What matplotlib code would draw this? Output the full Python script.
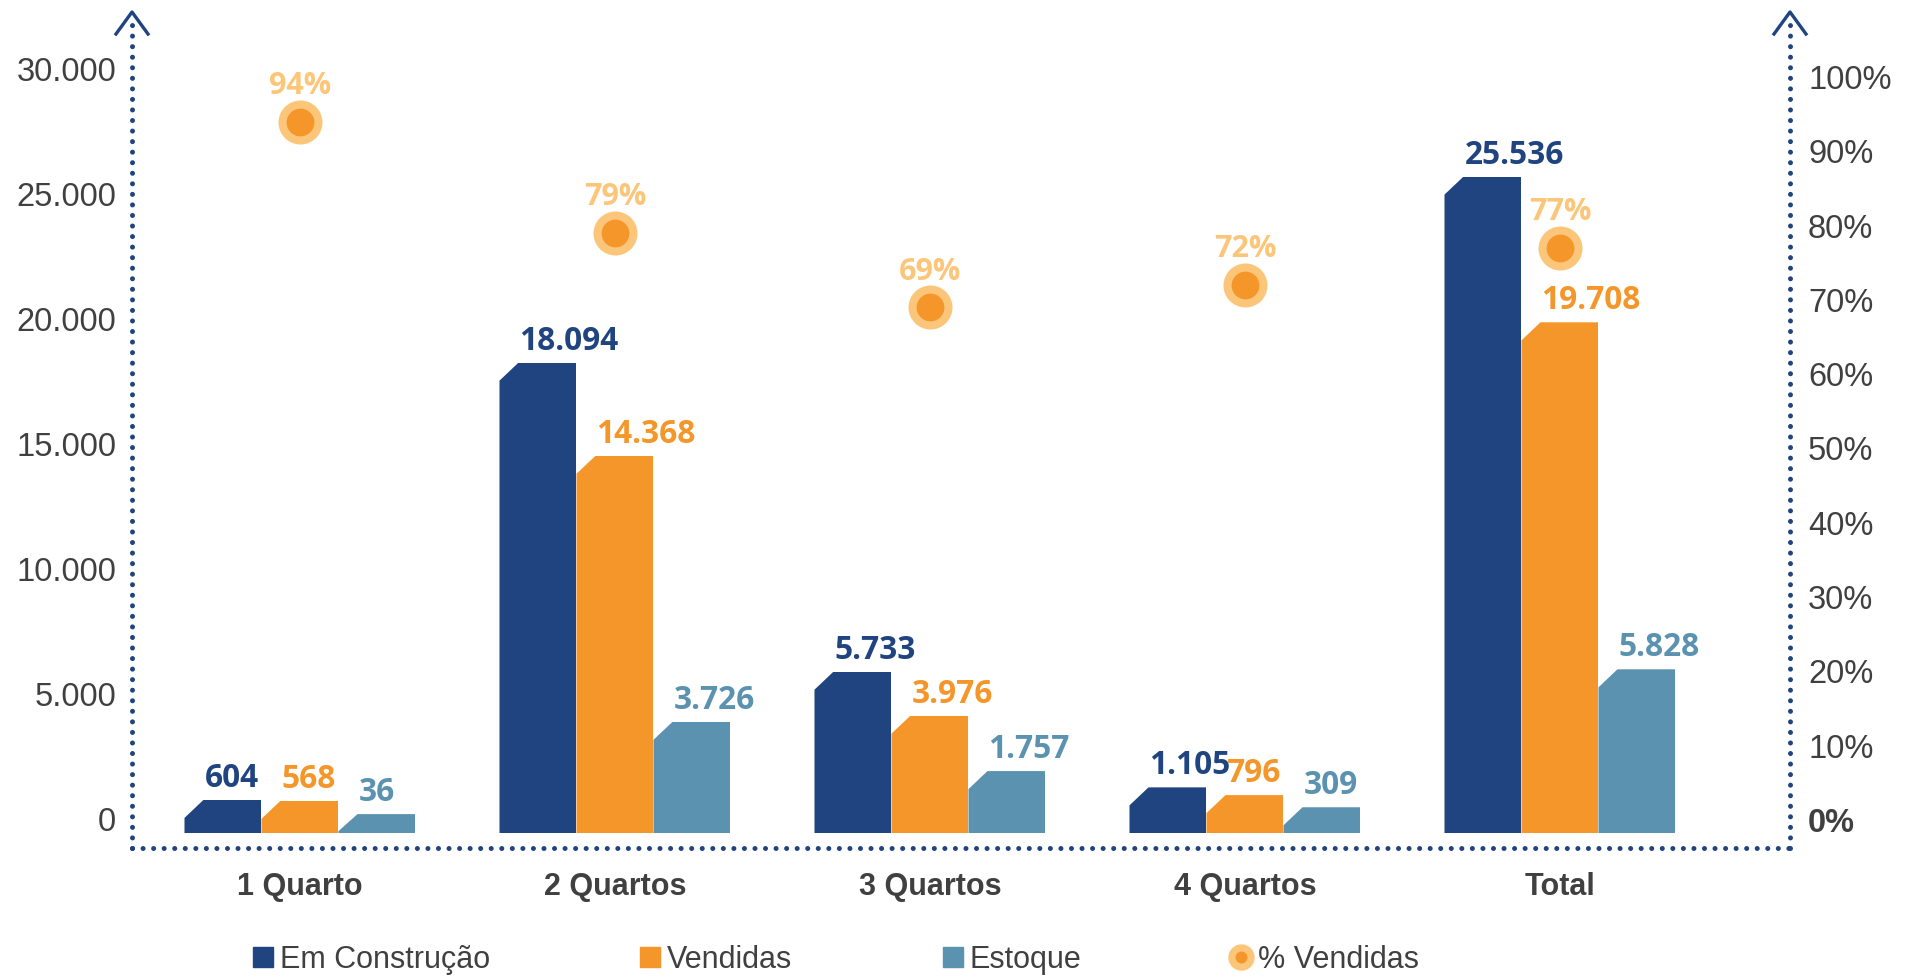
import numpy as np
import matplotlib
matplotlib.use("Agg")
import matplotlib.pyplot as plt
import matplotlib.transforms as mtransforms
from matplotlib.patches import Polygon
from matplotlib.lines import Line2D

# dados
categorias = ['1 Quarto', '2 Quartos', '3 Quartos', '4 Quartos', 'Total']
em_construcao = [604, 18094, 5733, 1105, 25536]
vendidas = [568, 14368, 3976, 796, 19708]
estoque = [36, 3726, 1757, 309, 5828]
pct_vendidas = [94, 79, 69, 72, 77]

series_nomes = ['Em Construção', 'Vendidas', 'Estoque']
legenda_pct = '% Vendidas'
ticks_esq = list(range(0, 30001, 5000))
ticks_dir = list(range(0, 101, 10))

# estilo
cores = ['#1F4480', '#F5962A', '#5A92B0']
laranja_claro = '#FCC67A'
cinza = '#404040'
azul_eixo = '#1F4480'
plt.rcParams['font.family'] = ['Liberation Sans', 'DejaVu Sans']

W, H = 1912, 976
fig = plt.figure(figsize=(W / 100, H / 100), dpi=100)

# area do grafico em pixels (eixo esq. 132, dir. 1790, base 848, topo 12)
ax = fig.add_axes([132 / W, (H - 848) / H, (1790 - 132) / W, (848 - 12) / H])
ax_w_px = 1790 - 132
ax_h_px = 848 - 12

# escalas: zero em y=815px, 25px por 1000 unidades; grupos a cada 315px
ax.set_xlim(-0.5333, 4.7302)
ax.set_ylim(-1320, 32120)
px_x = ax_w_px / (4.7302 + 0.5333)
px_y = ax_h_px / (32120 + 1320)

x = np.arange(len(categorias))
largura = 77 / px_x
base = -18 / px_y  # barras descem um pouco abaixo do zero

for i, (vals, cor) in enumerate(zip([em_construcao, vendidas, estoque], cores)):
    pos = x + (i - 1) * largura
    vals = np.array(vals)
    barras = ax.bar(pos, vals - base, bottom=base, width=largura, color=cor,
                    align='center', linewidth=0)
    for rect, v in zip(barras, vals):
        x0, y0 = rect.get_x(), rect.get_y()
        w, h = rect.get_width(), rect.get_height()
        y1 = y0 + h
        cx = 19 / px_x
        cy = min(18 / px_y, 0.9 * h)
        chanfro = Polygon([(x0, y0), (x0, y1 - cy), (x0 + cx, y1), (x0 + w, y1), (x0 + w, y0)],
                          closed=True, transform=ax.transData)
        rect.set_clip_path(chanfro)
        ax.annotate(f'{v:,}'.replace(',', '.'), xy=(x0, v), xytext=(14.4, 9.4),
                    textcoords='offset points', ha='left', va='baseline',
                    fontsize=22.8, fontweight='bold', family='Open Sans', color=cor)

# eixo secundario: % vendidas (0% em y=820px, 7.43px por ponto)
ax2 = ax.twinx()
ax2.set_ylim(-28 / 7.43, (820 - 12) / 7.43)
ax2.plot(x, pct_vendidas, 'o', ms=31.7, color=laranja_claro, mec='none')
ax2.plot(x, pct_vendidas, 'o', ms=20, color=cores[1], mec='none')
for xi, p in zip(x, pct_vendidas):
    ax2.annotate(f'{p}%', xy=(xi, p), xytext=(0, 20), textcoords='offset points',
                 ha='center', va='baseline', fontsize=22, fontweight='bold',
                 family='Open Sans', color=laranja_claro)

# ticks
ax.set_yticks(ticks_esq, labels=[f'{t:,}'.replace(',', '.') for t in ticks_esq])
ax.tick_params(axis='y', length=0, pad=11.5, labelsize=23.5, labelcolor=cinza)
desloc = mtransforms.ScaledTranslation(0, -4 / 100, fig.dpi_scale_trans)
for lbl in ax.get_yticklabels():
    lbl.set_transform(lbl.get_transform() + desloc)
ax2.set_yticks(ticks_dir, labels=[f'{t}%' for t in ticks_dir])
ax2.tick_params(axis='y', length=0, pad=13, labelsize=23.5, labelcolor=cinza)
ax2.get_yticklabels()[0].set_fontweight('bold')
ax.set_xticks(x, categorias, fontsize=22, fontweight='bold', color=cinza)
ax.tick_params(axis='x', length=0, pad=17)

for a in (ax, ax2):
    for s in a.spines.values():
        s.set_visible(False)

# eixos pontilhados com setas
estilo_pont = dict(transform=ax.transAxes, clip_on=False, color=azul_eixo, lw=3.6,
                   ls=(0, (0.01, 2.1)), dash_capstyle='round', zorder=5)
ax.plot([0, 0], [0, 0.985], **estilo_pont)
ax.plot([1, 1], [0, 0.985], **estilo_pont)
ax.plot([0, 1], [0, 0], **estilo_pont)
dx, dy = 16 / ax_w_px, 22 / ax_h_px
for xe in (0, 1):
    ax.plot([xe - dx, xe, xe + dx], [1 - dy, 1, 1 - dy], transform=ax.transAxes,
            clip_on=False, color=azul_eixo, lw=2.4, zorder=5)

# legenda
handles = [Line2D([], [], marker='s', ls='', ms=13.7, color=c) for c in cores]
handles.append((Line2D([], [], marker='o', ls='', ms=19, color=laranja_claro, mec='none'),
                Line2D([], [], marker='o', ls='', ms=8.6, color=cores[1], mec='none')))
fig.legend(handles, series_nomes + [legenda_pct], loc='center left',
           bbox_to_anchor=(252 / W, 16 / H), ncol=4, frameon=False,
           prop={'family': 'Liberation Sans', 'size': 22}, labelcolor=cinza,
           handlelength=0.7, handletextpad=0.2, columnspacing=4.9,
           borderpad=0, borderaxespad=0)

fig.savefig('out.png', dpi=100)
